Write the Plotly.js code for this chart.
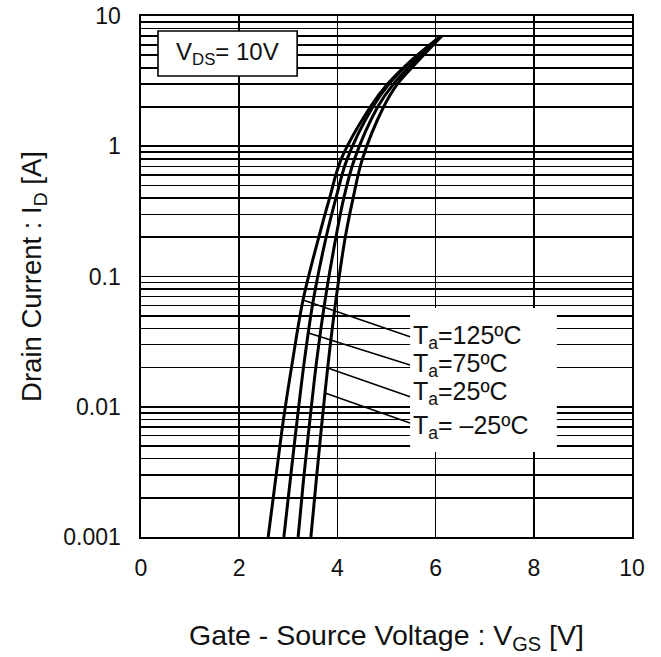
<!DOCTYPE html>
<html>
<head>
<meta charset="utf-8">
<script src="https://cdn.plot.ly/plotly-3.0.1.min.js"></script>
<style>
  html, body { margin: 0; padding: 0; background: #fff; }
  #chart { width: 661px; height: 657px; }
</style>
</head>
<body>
<div id="chart"></div>
<script>
// ---- data ----
const drainCurrent = [0.001, 0.00274, 0.0079, 0.0229, 0.066, 0.2, 0.4, 0.8, 2.0, 3.0, 4.3, 7.0];
const vgs125 = [2.59, 2.74, 2.90, 3.09, 3.30, 3.62, 3.84, 4.08, 4.67, 5.02, 5.43, 6.10];
const vgs75  = [2.91, 3.04, 3.18, 3.33, 3.51, 3.77, 3.97, 4.20, 4.72, 5.05, 5.45, 6.11];
const vgs25  = [3.20, 3.31, 3.44, 3.58, 3.75, 3.97, 4.13, 4.35, 4.82, 5.14, 5.53, 6.12];
const vgsM25 = [3.46, 3.57, 3.69, 3.82, 3.97, 4.16, 4.32, 4.51, 4.94, 5.22, 5.59, 6.12];
const seriesNames = ['T<sub>a</sub>=125ºC', 'T<sub>a</sub>=75ºC', 'T<sub>a</sub>=25ºC', 'T<sub>a</sub>= –25ºC'];
const xTicks = [0, 2, 4, 6, 8, 10];
const yTicks = [0.001, 0.01, 0.1, 1, 10];
const yTickText = ['0.001', '0.01', '0.1', '1', '10'];

const curves = [vgs125, vgs75, vgs25, vgsM25];
const FONT = 'Liberation Sans, Arial, sans-serif';
const TXT = '#111';

// traces
const traces = curves.map((v, i) => ({
  type: 'scatter', mode: 'lines', name: seriesNames[i],
  x: v, y: drainCurrent,
  line: { color: '#000', width: 3, shape: 'spline', smoothing: 1 },
  showlegend: false, hoverinfo: 'skip'
}));

// interpolate a curve's V at a given current (log space)
function vAt(v, iTarget) {
  const lt = Math.log10(iTarget);
  for (let k = 0; k < drainCurrent.length - 1; k++) {
    const a = Math.log10(drainCurrent[k]), b = Math.log10(drainCurrent[k + 1]);
    if (lt >= a && lt <= b) return v[k] + (v[k + 1] - v[k]) * (lt - a) / (b - a);
  }
  return v[v.length - 1];
}

// leader lines: [curve index, log10 current where leader touches curve, label end log10 y]
const leaderSpec = [
  [0, -1.180, -1.462],
  [1, -1.434, -1.679],
  [3, -1.702, -1.923],
  [3, -1.894, -2.125]
];
const labelX = 5.48;
leaderSpec.forEach(([ci, lc, ly]) => {
  const cur = Math.pow(10, lc);
  traces.push({
    type: 'scatter', mode: 'lines',
    x: [vAt(curves[ci], cur), labelX], y: [cur, Math.pow(10, ly)],
    line: { color: '#000', width: 1.5 }, showlegend: false, hoverinfo: 'skip'
  });
});

// minor grid values
const minorVals = [];
for (let d = -3; d < 1; d++) for (let m = 2; m <= 9; m++) minorVals.push(m * Math.pow(10, d));

const labelYs = [-1.468, -1.68, -1.894, -2.155];
const annotations = seriesNames.map((t, i) => ({
  x: labelX + 0.02, y: labelYs[i], xref: 'x', yref: 'y',
  text: t, showarrow: false, xanchor: 'left', yanchor: 'middle',
  font: { family: FONT, size: 25, color: TXT }
}));
annotations.push({
  x: 1.76, y: 0.712, xref: 'x', yref: 'y',
  text: 'V<sub>DS</sub>= 10V', showarrow: false, xanchor: 'center', yanchor: 'middle',
  font: { family: FONT, size: 24, color: TXT }
});

const layout = {
  width: 661, height: 657,
  margin: { l: 141, r: 29, t: 16, b: 120 },
  paper_bgcolor: '#fff', plot_bgcolor: '#fff',
  font: { family: FONT, size: 23, color: TXT },
  xaxis: {
    range: [0, 10], tickvals: xTicks, ticks: '', ticklabelstandoff: 10,
    showgrid: true, gridcolor: '#000', gridwidth: 1.6,
    showline: true, linecolor: '#000', linewidth: 1.6, mirror: true,
    zeroline: false, fixedrange: true,
    tickfont: { family: FONT, size: 23, color: TXT },
    title: { text: 'Gate - Source Voltage : V<sub>GS</sub> [V]', font: { family: FONT, size: 28.5, color: TXT }, standoff: 45 }
  },
  yaxis: {
    type: 'log', range: [-3, 1], tickvals: yTicks, ticktext: yTickText, ticks: '',
    ticklabelstandoff: 14,
    showgrid: true, gridcolor: '#000', gridwidth: 1.6,
    minor: { tickvals: minorVals, showgrid: true, gridcolor: '#000', gridwidth: 1.6, ticks: '' },
    showline: true, linecolor: '#000', linewidth: 1.6, mirror: true,
    zeroline: false, fixedrange: true,
    tickfont: { family: FONT, size: 23, color: TXT },
    title: { text: 'Drain Current : I<sub>D</sub> [A]', font: { family: FONT, size: 27.5, color: TXT }, standoff: 13 }
  },
  shapes: [
    { type: 'rect', xref: 'x', yref: 'y', x0: 5.48, x1: 8.47,
      y0: Math.pow(10, -2.347), y1: Math.pow(10, -1.242),
      fillcolor: '#fff', line: { width: 0 }, layer: 'between' },
    { type: 'rect', xref: 'x', yref: 'y', x0: 0.346, x1: 3.18,
      y0: Math.pow(10, 0.539), y1: Math.pow(10, 0.885),
      fillcolor: '#fff', line: { color: '#000', width: 1.6 }, layer: 'between' }
  ],
  annotations: annotations,
  showlegend: false
};

Plotly.newPlot('chart', traces, layout, { staticPlot: true, displayModeBar: false });
</script>
</body>
</html>
